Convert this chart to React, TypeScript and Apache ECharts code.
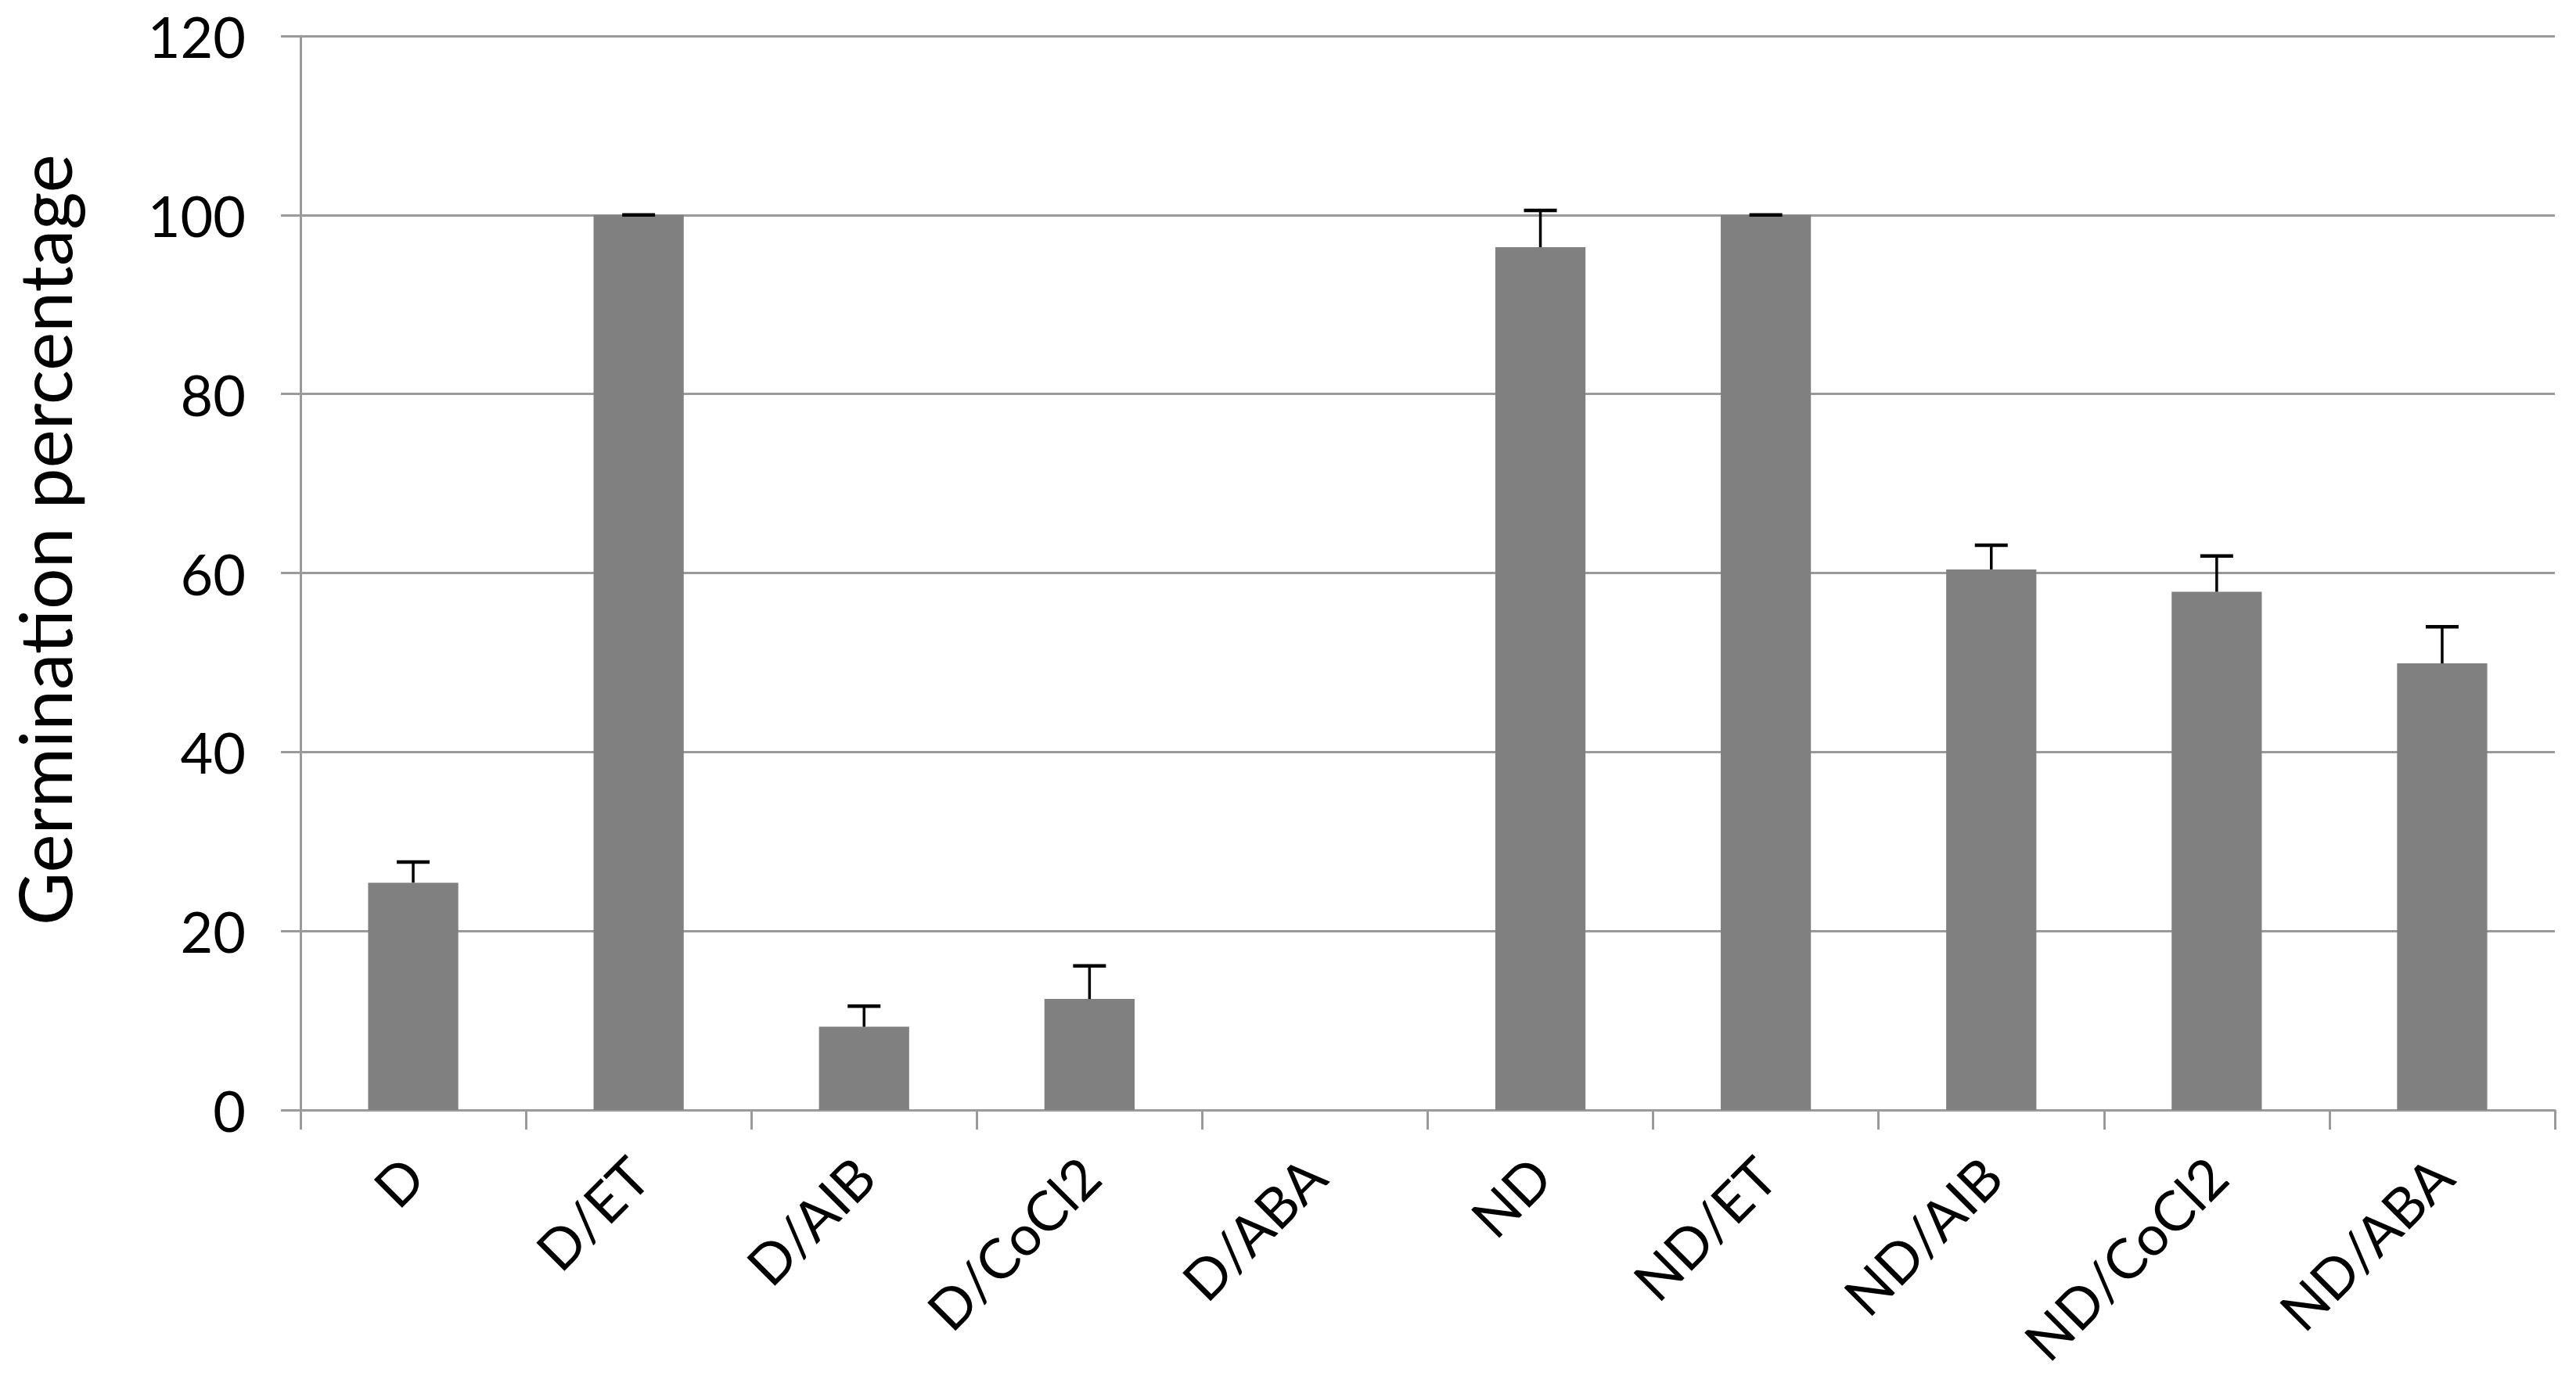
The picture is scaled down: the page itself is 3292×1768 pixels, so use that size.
import React, { useEffect, useRef } from "react";
import * as echarts from "echarts";

const categories = ["D", "D/ET", "D/AIB", "D/CoCl2", "D/ABA", "ND", "ND/ET", "ND/AIB", "ND/CoCl2", "ND/ABA"];
const means = [25.4, 100, 9.3, 12.4, 0, 96.4, 100, 60.4, 57.9, 49.9];
const errors = [2.3, 0, 2.3, 3.7, 0, 4.1, 0, 2.7, 4.0, 4.1];
const yTitle = "Germination percentage";

const FONT = "Lato, 'Open Sans', sans-serif";
const AXIS_GRAY = "#9a9a9a";

export default function App() {
  const ref = useRef<HTMLDivElement>(null);
  useEffect(() => {
    document.body.style.margin = "0";
    const chart = echarts.init(ref.current!, null, { renderer: "svg" });
    const errData = categories.map((c, i) => [i, means[i], errors[i]]);
    chart.setOption({
      animation: false,
      backgroundColor: "#ffffff",
      grid: { left: 384, right: 27, top: 46, bottom: 349, containLabel: false },
      graphic: [
        {
          type: "text",
          x: 56,
          y: 690,
          rotation: Math.PI / 2,
          style: {
            text: yTitle,
            font: `93px ${FONT}`,
            fill: "#000",
            align: "center",
            verticalAlign: "middle",
          },
        },
      ],
      xAxis: {
        type: "category",
        data: categories,
        boundaryGap: true,
        axisLine: { show: true, lineStyle: { color: AXIS_GRAY, width: 3 } },
        axisTick: { show: true, length: 25, alignWithLabel: false, lineStyle: { color: AXIS_GRAY, width: 3 } },
        axisLabel: {
          rotate: 45,
          margin: 72,
          color: "#000",
          fontSize: 71,
          fontFamily: FONT,
        },
        splitLine: { show: false },
      },
      yAxis: {
        type: "value",
        min: 0,
        max: 120,
        interval: 20,
        axisLine: { show: true, lineStyle: { color: AXIS_GRAY, width: 3 } },
        axisTick: { show: true, length: 25, lineStyle: { color: AXIS_GRAY, width: 3 } },
        axisLabel: { margin: 70, color: "#000", fontSize: 72, fontFamily: FONT },
        splitLine: { show: true, lineStyle: { color: AXIS_GRAY, width: 3 } },
      },
      series: [
        {
          type: "bar",
          data: means,
          barCategoryGap: "60%",
          itemStyle: { color: "#808080" },
          z: 2,
        },
        {
          type: "custom",
          data: errData,
          encode: { x: 0, y: 1 },
          z: 3,
          renderItem: (params: any, api: any) => {
            const idx = api.value(0);
            const v = api.value(1);
            const e = api.value(2);
            if (v === 0) return null;
            const p0 = api.coord([idx, v]);
            const p1 = api.coord([idx, v + e]);
            const half = 21;
            return {
              type: "group",
              children: [
                {
                  type: "line",
                  shape: { x1: p0[0], y1: p0[1], x2: p1[0], y2: p1[1] },
                  style: { stroke: "#000", lineWidth: 3.5 },
                },
                {
                  type: "line",
                  shape: { x1: p1[0] - half, y1: p1[1], x2: p1[0] + half, y2: p1[1] },
                  style: { stroke: "#000", lineWidth: 4.5 },
                },
              ],
            };
          },
        },
      ],
    });
    return () => chart.dispose();
  }, []);
  return <div ref={ref} style={{ width: 3292, height: 1768 }} />;
}
